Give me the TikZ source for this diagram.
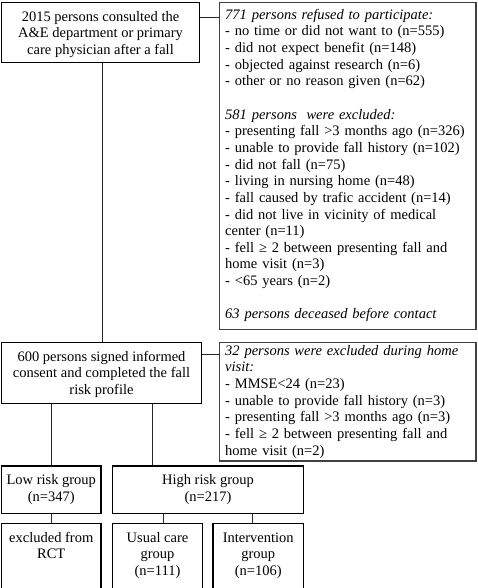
\documentclass[tikz,border=0pt]{standalone}
\usepackage{fontspec}
\setmainfont{Liberation Serif}
\newcommand{\fs}{\fontsize{14.5}{16.65}\selectfont}
\begin{document}
\begin{tikzpicture}[x=1pt,y=-1pt,
  thickbox/.style={draw=black, line width=1.8pt, inner sep=0pt, anchor=center},
  thinbox/.style={draw=black!75, line width=1.1pt, inner sep=0pt, anchor=center},
  conn/.style={draw=black!85, line width=0.9pt},
  tl/.style={inner sep=0pt, anchor=north west, align=left, text width=251pt, font=\fs},
  tc/.style={inner sep=0pt, anchor=north, align=center, font=\fs}]
\useasboundingbox (0,0) rectangle (478,588);

% boxes
\node[thickbox, minimum width=198pt, minimum height=60pt] (A) at (100.5,32.5) {};
\node[thinbox, minimum width=256.5pt, minimum height=327pt] (R1) at (347.75,166) {};
\node[thickbox, minimum width=200pt, minimum height=61pt] (B) at (101.5,373) {};
\node[thinbox, minimum width=256.5pt, minimum height=118.5pt] (R2) at (347.75,401.75) {};
\node[thickbox, minimum width=99.5pt, minimum height=47.5pt] (low) at (51.25,489.75) {};
\node[thickbox, minimum width=191pt, minimum height=47.5pt] (high) at (208,489.75) {};
\node[thickbox, minimum width=99.5pt, minimum height=66.5pt] (excl) at (51.25,556.75) {};
\node[thickbox, minimum width=90pt, minimum height=66.5pt] (usual) at (157.5,556.75) {};
\node[thickbox, minimum width=90.5pt, minimum height=66.5pt] (interv) at (258.25,556.75) {};

% texts
\node[tc] (tA) at (100.5,9.3) {\strut 2015 persons consulted the\\A\&E department or primary\\care physician after a fall};
\node[tl] (tR1) at (225,7.35) {\strut\textit{771 persons refused to participate:}\\
- no time or did not want to (n=555)\\
- did not expect benefit (n=148)\\
- objected against research (n=6)\\
- other or no reason given (n=62)\\[16.65pt]
\textit{581 persons\ \ were excluded:}\\
- presenting fall >3 months ago (n=326)\\
- unable to provide fall history (n=102)\\
- did not fall (n=75)\\
- living in nursing home (n=48)\\
- fall caused by trafic accident (n=14)\\
- did not live in vicinity of medical\\
center (n=11)\\
- fell ≥ 2 between presenting fall and\\
home visit (n=3)\\
- <65 years (n=2)\\[16.65pt]
\textit{63 persons deceased before contact}};
\node[tc] (tB) at (101.5,349.3) {\strut 600 persons signed informed\\consent and completed the fall\\risk profile};
\node[tl] (tR2) at (225,343.35) {\strut\textit{32 persons were excluded during home}\\
\textit{visit:}\\
- MMSE<24 (n=23)\\
- unable to provide fall history (n=3)\\
- presenting fall >3 months ago (n=3)\\
- fell ≥ 2 between presenting fall and\\
home visit (n=2)};
\node[tc] (tlow) at (51.25,472.8) {\strut Low risk group\\(n=347)};
\node[tc] (thigh) at (208,472.8) {\strut High risk group\\(n=217)};
\node[tc] (texcl) at (51.25,530.3) {\strut excluded from\\RCT};
\node[tc] (tusual) at (157.5,530.3) {\strut Usual care\\group\\(n=111)};
\node[tc] (tinterv) at (258.25,530.3) {\strut Intervention\\group\\(n=106)};

% connectors
\draw[conn] ([xshift=1.5pt]A.south) -- ([xshift=1.5pt]A.south |- B.north);
\draw[conn] ([yshift=-15.4pt]A.north east) -- ([yshift=-15.4pt]A.north east -| R1.west);
\draw[conn] ([yshift=-12.4pt]B.north east) -- ([yshift=-12.4pt]B.north east -| R2.west);
\draw[conn] ([xshift=50.4pt]B.south west) -- ([xshift=50.4pt]B.south west |- low.north);
\draw[conn] ([xshift=151.4pt]B.south west) -- ([xshift=151.4pt]B.south west |- high.north);
\draw[conn] ([xshift=50.4pt]low.south west) -- ([xshift=50.4pt]low.south west |- excl.north);
\draw[conn] ([xshift=51.4pt]high.south west) -- ([xshift=51.4pt]high.south west |- usual.north);
\draw[conn] ([xshift=140.4pt]high.south west) -- ([xshift=140.4pt]high.south west |- interv.north);
\end{tikzpicture}
\end{document}
